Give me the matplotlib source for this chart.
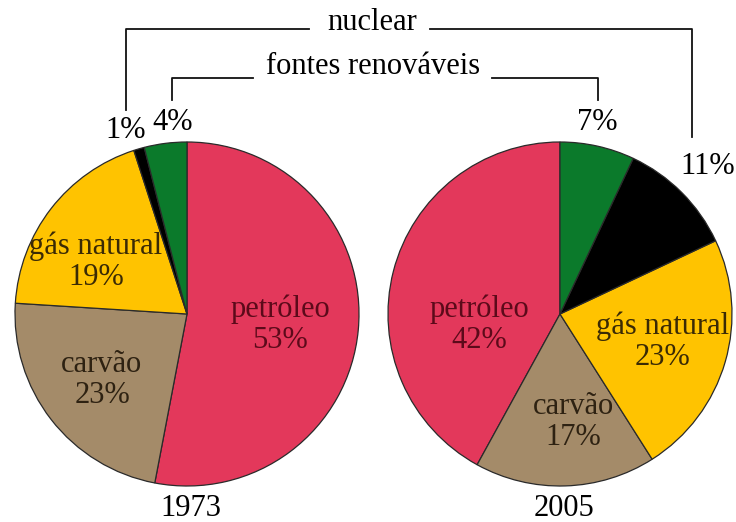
import matplotlib.pyplot as plt

plt.rcParams["font.family"] = ["Liberation Serif", "DejaVu Serif"]

sources = ["petróleo", "carvão", "gás natural", "nuclear", "fontes renováveis"]
share_1973 = [53, 23, 19, 1, 4]
share_2005 = [42, 17, 23, 11, 7]
years = ["1973", "2005"]

colors = ["#E3385B", "#A48B69", "#FFC300", "#000000", "#0B7A2B"]
text_colors = ["#5C0A1A", "#2E2212", "#3A2A05"]

W, H = 736, 522
FS = 22


def y(v):
    # image pixel rows -> data coords (y up)
    return H - v


fig = plt.figure(figsize=(W / 100, H / 100), dpi=100)
ax = fig.add_axes([0, 0, 1, 1])

centers = [(187, y(314)), (560, y(314))]
radius = 172

ax.pie(share_1973, colors=colors, startangle=90, counterclock=False,
       center=centers[0], radius=radius,
       wedgeprops=dict(edgecolor="#2a2a2a", linewidth=0.9))
ax.pie(share_2005, colors=colors, startangle=90, counterclock=True,
       center=centers[1], radius=radius,
       wedgeprops=dict(edgecolor="#2a2a2a", linewidth=0.9))

# labels inside the pies (offset from centre, px)
inside = [
    [(93, -11), (-85, -66), (-91, 52)],    # 1973: petróleo, carvão, gás natural
    [(-81, -11), (13, -108), (103, -28)],  # 2005
]
for k, shares in enumerate([share_1973, share_2005]):
    cx, cy = centers[k]
    for i in range(3):
        dx, dy = inside[k][i]
        ax.text(cx + dx, cy + dy, f"{sources[i]}\n{shares[i]}%",
                ha="center", va="center", fontsize=FS, color=text_colors[i],
                linespacing=1.1)

# small shares outside
ax.text(126, y(130), f"{share_1973[3]}%", ha="center", va="center", fontsize=FS)
ax.text(173, y(122), f"{share_1973[4]}%", ha="center", va="center", fontsize=FS)
ax.text(597, y(122), f"{share_2005[4]}%", ha="center", va="center", fontsize=FS)
ax.text(708, y(166), f"{share_2005[3]}%", ha="center", va="center", fontsize=FS)

# brackets
lk = dict(color="#111111", linewidth=1.3)
ax.plot([126, 126, 309], [y(110), y(29), y(29)], **lk)
ax.plot([430, 692, 692], [y(29), y(29), y(137)], **lk)
ax.plot([172, 172, 253], [y(100), y(78), y(78)], **lk)
ax.plot([492, 598, 598], [y(78), y(78), y(100)], **lk)
ax.text(372, y(22), "nuclear", ha="center", va="center", fontsize=FS)
ax.text(373, y(67), "fontes renováveis", ha="center", va="center", fontsize=FS)

for k, yr in enumerate(years):
    ax.text(centers[k][0] + 4, y(509), yr, ha="center", va="center", fontsize=FS)

ax.set_xlim(0, W)
ax.set_ylim(0, H)
ax.set_axis_off()

fig.savefig("out.png", dpi=100)
